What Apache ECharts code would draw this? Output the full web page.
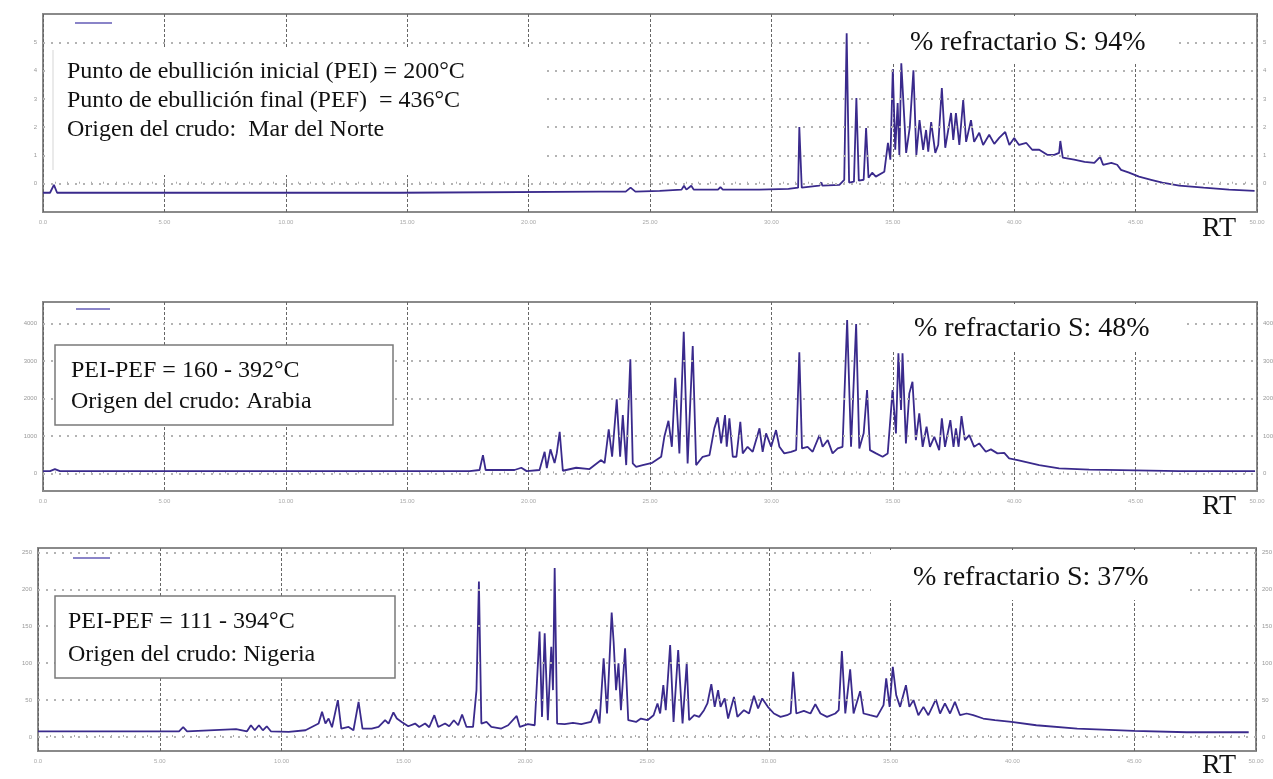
<!DOCTYPE html>
<html>
<head>
<meta charset="utf-8">
<script src="https://cdn.jsdelivr.net/npm/echarts/dist/echarts.min.js"></script>
<style>
  html, body { margin: 0; padding: 0; background: #fff; }
  #main { width: 1273px; height: 779px; }
</style>
</head>
<body>
<div id="main"></div>
<script>
const marNorte = [
  [0,-0.32],[0.29,-0.32],[0.45,-0.04],[0.58,-0.32],[14.7,-0.32],[22.9,-0.28],[24.0,-0.28],[24.2,-0.14],[24.4,-0.28],
  [25.4,-0.25],[26.3,-0.21],[26.4,-0.07],[26.5,-0.21],[26.7,-0.07],[26.8,-0.21],[27.8,-0.21],[27.9,-0.12],[28.0,-0.21],
  [29.5,-0.21],[30.7,-0.18],[31.1,-0.14],[31.15,2.0],[31.25,-0.14],[31.97,-0.07],[32.06,0.04],[32.1,-0.07],[32.8,-0.04],
  [33.0,0.14],[33.1,5.32],[33.2,0.04],[33.4,0.07],[33.5,3.03],[33.6,0.11],[33.8,0.14],[33.9,1.97],[34.0,0.21],
  [34.15,0.39],[34.3,0.25],[34.65,0.42],[34.8,1.44],[34.9,0.85],[35.0,4.05],[35.1,1.2],[35.2,2.85],[35.27,1.02],
  [35.35,4.26],[35.43,4.23],[35.55,1.09],[35.7,2.0],[35.85,4.01],[35.97,1.02],[36.1,2.25],[36.25,1.2],[36.37,1.9],
  [36.46,1.13],[36.58,2.18],[36.75,1.09],[36.87,1.37],[37.02,3.38],[37.16,1.27],[37.4,2.5],[37.49,1.55],[37.6,2.5],
  [37.74,1.37],[37.9,2.96],[38.02,1.48],[38.22,2.25],[38.35,1.48],[38.56,1.8],[38.72,1.37],[38.97,1.73],[39.18,1.41],
  [39.38,1.62],[39.63,1.83],[39.8,1.37],[40.0,1.62],[40.2,1.37],[40.5,1.44],[40.74,1.2],[41.03,1.2],[41.36,1.02],
  [41.65,1.02],[41.85,1.09],[41.9,1.51],[42.0,0.92],[42.47,0.85],[42.9,0.77],[43.3,0.74],[43.54,0.95],[43.66,0.67],
  [44.0,0.74],[44.24,0.67],[44.4,0.49],[44.73,0.39],[45.14,0.25],[45.64,0.14],[46.1,0.04],[46.8,-0.07],[47.8,-0.14],
  [48.85,-0.21],[49.9,-0.25]
];

const arabia = [
  [0,60],[0.29,60],[0.49,115],[0.7,60],[10.58,60],[17.57,60],[17.98,90],[18.12,488],[18.23,90],[19.42,90],[19.7,150],
  [19.92,60],[20.45,90],[20.66,576],[20.75,140],[20.9,640],[21.07,275],[21.16,540],[21.28,1110],[21.41,70],[21.96,150],
  [22.51,115],[22.99,355],[23.13,275],[23.3,1173],[23.44,443],[23.63,1973],[23.77,443],[23.88,1555],[24.02,221],
  [24.19,3040],[24.29,267],[24.43,176],[24.7,221],[25.09,283],[25.46,443],[25.59,976],[25.76,1403],[25.9,709],
  [26.04,2550],[26.21,533],[26.39,3776],[26.55,267],[26.76,3395],[26.9,221],[27.17,443],[27.45,488],[27.65,1200],
  [27.79,1493],[27.93,800],[28.09,1555],[28.16,709],[28.27,1467],[28.41,443],[28.56,443],[28.72,1376],[28.82,533],
  [29.02,709],[29.23,576],[29.51,1200],[29.64,576],[29.78,1067],[29.99,709],[30.19,1155],[30.33,709],[30.53,533],
  [30.81,576],[31.02,621],[31.15,3227],[31.26,664],[31.49,709],[31.7,576],[31.98,1021],[32.11,709],[32.32,888],
  [32.52,533],[32.73,664],[32.93,709],[33.12,4088],[33.28,709],[33.49,3981],[33.62,664],[33.8,1067],[33.94,2221],
  [34.06,621],[34.31,533],[34.58,443],[34.79,533],[34.88,1288],[34.99,2221],[35.13,1067],[35.23,3200],[35.34,1688],
  [35.4,3200],[35.54,800],[35.68,2133],[35.81,2443],[35.95,888],[36.09,1600],[36.23,709],[36.39,1243],[36.53,709],
  [36.71,976],[36.91,621],[37.02,1467],[37.15,709],[37.37,1421],[37.5,709],[37.6,1200],[37.71,709],[37.83,1528],
  [37.97,888],[38.15,1021],[38.35,709],[38.56,800],[38.83,576],[39.04,640],[39.31,533],[39.59,549],[39.79,400],
  [40.14,355],[41.03,221],[41.85,133],[43.09,101],[44.4,88],[46.79,61],[49.92,61]
];

const nigeria = [
  [0,7.7],[3.34,7.7],[5.79,7.7],[5.96,13.2],[6.12,7.7],[8.13,10.5],[8.58,7.7],[8.74,15.9],[8.9,9.1],[9.07,15.9],
  [9.23,9.1],[9.39,14.5],[9.56,7.7],[10.29,6.8],[10.98,9.1],[11.52,18.2],[11.66,34],[11.8,18.2],[11.93,25],[12.07,13.2],
  [12.31,49.9],[12.45,11.4],[12.75,13.6],[12.95,9.1],[13.16,47.6],[13.32,11.4],[13.7,11.4],[13.98,13.6],[14.25,22.7],
  [14.39,18.2],[14.59,33.2],[14.73,25],[14.93,20.4],[15.2,14.5],[15.48,18.2],[15.65,13.6],[15.89,18.2],[16.06,13.2],
  [16.27,29.5],[16.43,13.6],[16.71,18.2],[16.88,14.5],[17.07,22.7],[17.25,15.9],[17.41,30.4],[17.59,13.6],[17.86,13.6],
  [18.0,63.5],[18.1,210.6],[18.2,18.2],[18.41,20.4],[18.61,13.6],[19.02,11.4],[19.3,15.9],[19.65,28.5],[19.78,13.6],
  [20.11,17.3],[20.39,15.9],[20.59,142.7],[20.69,27.2],[20.8,140.5],[20.93,22.7],[21.07,122.3],[21.14,63.5],
  [21.21,228.8],[21.31,18.2],[21.62,17.3],[21.96,19],[22.3,17.3],[22.7,20.4],[22.91,37.2],[23.05,18.2],[23.22,106.5],
  [23.36,31.8],[23.55,168.5],[23.63,129],[23.73,63.5],[23.83,99.7],[23.93,36.3],[24.1,120.1],[24.23,22.7],[24.55,20.4],
  [24.75,25],[25.02,22.7],[25.27,29.5],[25.43,45.4],[25.54,31.8],[25.67,70.2],[25.77,36.3],[25.95,124.6],[26.09,20.4],
  [26.28,117.8],[26.36,72.6],[26.46,18.2],[26.63,99.7],[26.73,22.7],[26.94,29.5],[27.14,27.2],[27.34,36.3],[27.48,45.4],
  [27.64,71.6],[27.78,40.8],[27.92,63.5],[28.02,40.8],[28.19,52.2],[28.33,25],[28.57,54.3],[28.71,27.2],[28.98,36.3],
  [29.19,31.8],[29.39,55.7],[29.56,38.6],[29.73,52.2],[29.96,40.8],[30.21,31.8],[30.48,27.2],[30.75,29.5],[30.9,32.2],
  [31.0,88.3],[31.13,31.8],[31.44,35.3],[31.71,31.8],[31.91,44.4],[32.12,31.8],[32.39,27.2],[32.73,31.8],[32.87,36.3],
  [33.0,116.4],[33.14,31.8],[33.34,91.6],[33.48,31.8],[33.75,62.1],[33.89,31.8],[34.16,29.5],[34.44,27.2],[34.71,43.1],
  [34.82,79.3],[34.96,40.8],[35.09,95.1],[35.23,56.7],[35.39,40.8],[35.63,70.2],[35.77,40.8],[35.94,49.9],[36.14,29.5],
  [36.35,40.8],[36.55,29.5],[36.86,50.8],[37.03,31.8],[37.23,45.4],[37.44,31.8],[37.64,47.6],[37.85,29.5],[38.12,31.8],
  [38.39,29.5],[38.8,25],[39.28,22.7],[39.96,20.4],[40.98,15.9],[42.66,11.4],[44.99,8.2],[47.16,6.4],[49.7,6.4]
];

// líneas de referencia horizontales (valores de la escala)
const yTicksNorte = [0, 1, 2, 3, 4, 5];
const yTicksArabia = [0, 1000, 2000, 3000, 4000];
const yTicksNigeria = [0, 50, 100, 150, 200, 250];

const textosInfo = [
  ["Punto de ebullición inicial (PEI) = 200°C", "Punto de ebullición final (PEF)  = 436°C", "Origen del crudo:  Mar del Norte"],
  ["PEI-PEF = 160 - 392°C", "Origen del crudo: Arabia"],
  ["PEI-PEF = 111 - 394°C", "Origen del crudo: Nigeria"]
];
const refractario = ["% refractario S: 94%", "% refractario S: 48%", "% refractario S: 37%"];

const paneles = [
  { left: 43, top: 14, width: 1214, height: 198, min: -1, max: 6, ticks: yTicksNorte, data: marNorte },
  { left: 43, top: 302, width: 1214, height: 189, min: -470, max: 4570, ticks: yTicksArabia, data: arabia },
  { left: 38, top: 548, width: 1218, height: 203, min: -19, max: 256, ticks: yTicksNigeria, data: nigeria }
];

const serif = '"Liberation Serif", "DejaVu Serif", serif';
const lineColor = "#3a2a8c";

const grid = paneles.map((p) => ({
  left: p.left, top: p.top, width: p.width, height: p.height,
  show: true, borderColor: "#8a8a8a", borderWidth: 2, backgroundColor: "transparent"
}));

const xAxis = paneles.map((p, i) => ({
  gridIndex: i, type: "value", min: 0, max: 50, interval: 5,
  axisLine: { show: false },
  axisTick: { show: true, inside: true, length: 4, lineStyle: { color: "#888" } },
  minorTick: { show: true, splitNumber: 10, length: 2, lineStyle: { color: "#aaa" } },
  axisLabel: { fontSize: 6, color: "#aaa", margin: 7, formatter: (v) => (v === 0 ? "0.0" : v.toFixed(2)) },
  splitLine: { show: true, lineStyle: { color: "#666", type: [3, 2], width: 1 } }
}));

const yAxis = paneles.map((p, i) => ({
  gridIndex: i, type: "value", min: p.min, max: p.max,
  axisLine: { show: false }, axisTick: { show: false },
  axisLabel: { show: false }, splitLine: { show: false }
}));

const series = paneles.map((p, i) => ({
  type: "line", xAxisIndex: i, yAxisIndex: i, data: p.data,
  symbol: "none", lineStyle: { color: lineColor, width: 1.8 },
  markLine: {
    silent: true, symbol: ["none", "none"],
    lineStyle: { type: [2, 6], color: "#b3b3b3", width: 2 },
    label: { show: true, fontSize: 6, color: "#999", distance: 6, formatter: (q) => q.value },
    data: p.ticks.flatMap((v) => [
      { yAxis: v, label: { position: "start" } },
      { yAxis: v, label: { position: "end" } }
    ])
  }
}));

// cajas blancas y textos sobre la rejilla
const blanco = (x, y, w, h, borde) => ({
  type: "rect", z: 100, shape: { x, y, width: w, height: h },
  style: { fill: "#fff", stroke: borde ? "#7a7a7a" : null, lineWidth: borde ? 1.5 : 0 }
});
const texto = (t, x, y, size) => ({
  type: "text", z: 101, x, y,
  style: { text: t, font: size + "px " + serif, fill: "#111", textVerticalAlign: "middle" }
});
const leyenda = (x1, x2, y) => ({
  type: "line", z: 101, shape: { x1, y1: y, x2, y2: y },
  style: { stroke: "#8a84c8", lineWidth: 2 }
});

const graphic = [
  blanco(50, 47, 495, 128, false),
  { type: "line", z: 101, shape: { x1: 53, y1: 50, x2: 53, y2: 170 }, style: { stroke: "#d5d5d5", lineWidth: 1 } },
  blanco(872, 16, 303, 46, false),
  blanco(875, 304, 310, 46, false),
  blanco(871, 550, 318, 50, false),
  blanco(55, 345, 338, 80, true),
  blanco(55, 596, 340, 82, true),
  leyenda(75, 112, 23), leyenda(76, 110, 309), leyenda(73, 110, 558),
  texto(textosInfo[0][0], 67, 72, 24),
  texto(textosInfo[0][1], 67, 101, 24),
  texto(textosInfo[0][2], 67, 130, 24),
  texto(textosInfo[1][0], 71, 371, 24),
  texto(textosInfo[1][1], 71, 402, 24),
  texto(textosInfo[2][0], 68, 622, 24),
  texto(textosInfo[2][1], 68, 655, 24),
  texto(refractario[0], 910, 43, 28),
  texto(refractario[1], 914, 329, 28),
  texto(refractario[2], 913, 578, 28),
  texto("RT", 1202, 229, 28),
  texto("RT", 1202, 507, 28),
  texto("RT", 1202, 766, 28)
];

const myChart = echarts.init(document.getElementById("main"));
myChart.setOption({
  animation: false,
  grid, xAxis, yAxis, series, graphic
});
</script>
</body>
</html>
